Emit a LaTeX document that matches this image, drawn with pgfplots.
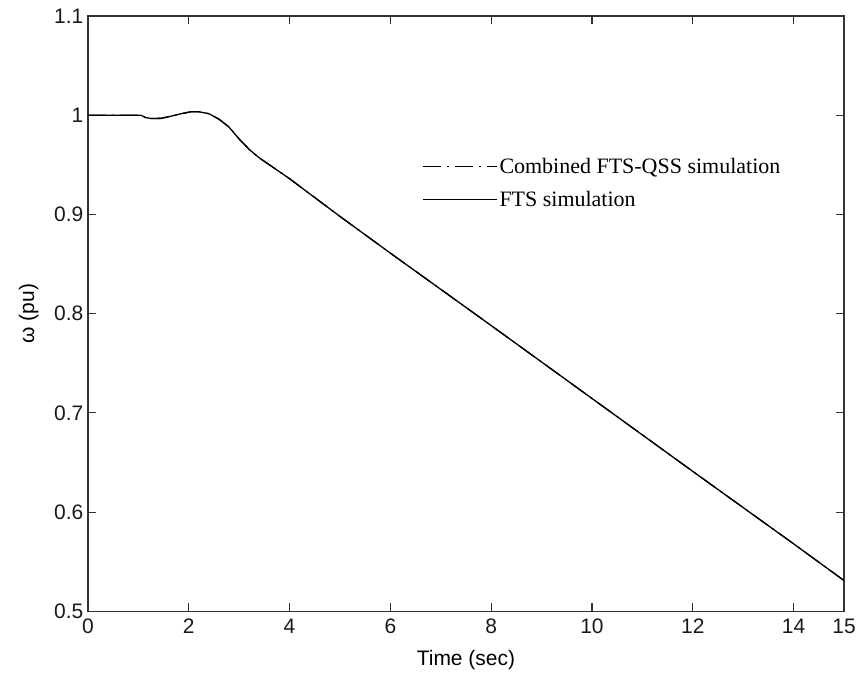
\documentclass[border=0pt]{standalone}
\usepackage{pgfplots}
\pgfplotsset{compat=1.18}
\usepackage{fontspec}
\setmainfont{Liberation Sans}
\newfontfamily\timesfont{Liberation Serif}
\pgfplotstableread{
t w
0 1.000
1.05 1.000
1.15 0.9975
1.25 0.9967
1.45 0.9968
1.65 0.9990
1.85 1.0015
2.05 1.0035
2.2 1.0035
2.4 1.0015
2.6 0.996
2.8 0.988
3.0 0.976
3.2 0.9655
3.4 0.957
3.6 0.950
4.0 0.936
4.5 0.917
5.0 0.898
6 0.861
8 0.788
10 0.7145
12 0.641
14 0.568
15 0.531
}\fts
\begin{document}
\begin{tikzpicture}
\begin{axis}[name=ax,
  scale only axis, width=757pt, height=596pt,
  xmin=0, xmax=15, ymin=0.5, ymax=1.1,
  xtick={0,2,4,6,8,10,12,14,15},
  ytick={0.5,0.6,0.7,0.8,0.9,1,1.1},
  yticklabels={0.5,0.6,0.7,0.8,0.9,1,1.1},
  xticklabels={0,2,4,6,8,10,12,14,15},
  tick align=inside, major tick length=8pt,
  axis line style={black!80, line width=1.3pt},
  every tick/.style={black!80, line width=1.1pt},
  tick label style={font=\fontsize{21}{24}\selectfont, black!90},
  xticklabel style={yshift=-4pt},
  yticklabel style={xshift=-1pt},
  /pgf/number format/assume math mode=true,
  xlabel={Time (sec)}, ylabel={ω (pu)},
  label style={font=\fontsize{21}{24}\selectfont},
  xlabel style={yshift=-10pt},
  ylabel style={yshift=9pt},
  legend style={draw=none, fill=none, at={(0.442,0.765)}, anchor=north west,
    font=\timesfont\fontsize{22}{25}\selectfont, row sep=12pt, inner sep=0pt,
    legend cell align=left},
  legend image code/.code={\draw[#1] (0pt,0pt) -- (74pt,0pt);},
]
\addplot[black, line width=1.3pt, dash pattern=on 18pt off 6pt on 2pt off 6pt] table[x=t,y=w] {\fts};
\addlegendentry{Combined FTS-QSS simulation}
\addplot[black, line width=1.3pt] table[x=t,y=w] {\fts};
\addlegendentry{FTS simulation}
\end{axis}
\path ([xshift=-88pt,yshift=-65pt]ax.south west) rectangle ([xshift=14pt,yshift=16pt]ax.north east);
\end{tikzpicture}
\end{document}
